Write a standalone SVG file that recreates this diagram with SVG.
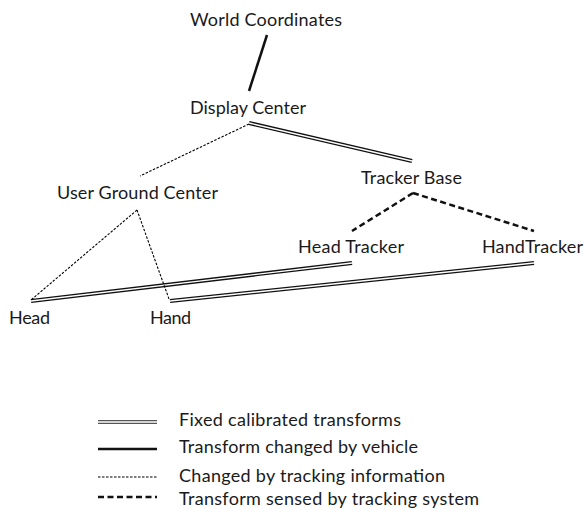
<svg xmlns="http://www.w3.org/2000/svg" width="584" height="512" viewBox="0 0 584 512">
<style>
text{font-family:Lato,"Open Sans","Liberation Sans",sans-serif;font-size:18px;fill:#1a1a1a}
.solid{stroke:#111;stroke-width:2.5;fill:none}
.dbl-o{stroke:#111;stroke-width:4;fill:none}
.dbl-i{stroke:#fff;stroke-width:1.4;fill:none}
.dot{stroke:#000;stroke-width:1.1;stroke-dasharray:2.5 1.5;fill:none}
.dash{stroke:#111;stroke-width:2.5;stroke-dasharray:6 3.5;fill:none}
</style>
<rect width="584" height="512" fill="#fff"/>
<g id="connectors">
<line class="solid" x1="267" y1="35" x2="249" y2="91"/>
<line class="dot" x1="249" y1="124" x2="140" y2="176"/>
<line class="dbl-o" x1="249" y1="123" x2="412" y2="161"/>
<line class="dbl-i" x1="249" y1="123" x2="412" y2="161"/>
<line class="dash" x1="413" y1="193" x2="352" y2="231"/>
<line class="dash" x1="413" y1="193" x2="534" y2="231"/>
<line class="dbl-o" x1="352" y1="263" x2="31" y2="301"/>
<line class="dbl-i" x1="352" y1="263" x2="31" y2="301"/>
<line class="dbl-o" x1="534" y1="263" x2="170" y2="301"/>
<line class="dbl-i" x1="534" y1="263" x2="170" y2="301"/>
<line class="dot" x1="137" y1="210" x2="31" y2="300"/>
<line class="dot" x1="137" y1="210" x2="169" y2="299"/>
</g>
<g id="world"><text x="190" y="26" textLength="152">World Coordinates</text></g>
<g id="display"><text x="190" y="114" textLength="116">Display Center</text></g>
<g id="trackerbase"><text x="361" y="184" textLength="101">Tracker Base</text></g>
<g id="userground"><text x="57" y="199" textLength="161">User Ground Center</text></g>
<g id="headtracker"><text x="298" y="253" textLength="106">Head Tracker</text></g>
<g id="handtracker"><text x="482" y="253" textLength="101">HandTracker</text></g>
<g id="head"><text x="9" y="324" textLength="41">Head</text></g>
<g id="hand"><text x="150" y="324" textLength="41">Hand</text></g>
<g id="legend">
<line class="dbl-o" x1="98" y1="422" x2="157" y2="422" style="stroke:#555"/>
<line class="dbl-i" x1="98" y1="422" x2="157" y2="422"/>
<line class="solid" x1="98" y1="449" x2="157" y2="449"/>
<line class="dot" x1="98" y1="477" x2="157" y2="477"/>
<line class="dash" x1="98" y1="497" x2="157" y2="497"/>
<text x="179" y="426" textLength="222">Fixed calibrated transforms</text>
<text x="179" y="453" textLength="239">Transform changed by vehicle</text>
<text x="179" y="482" textLength="266">Changed by tracking information</text>
<text x="179" y="505" textLength="300">Transform sensed by tracking system</text>
</g>
</svg>
